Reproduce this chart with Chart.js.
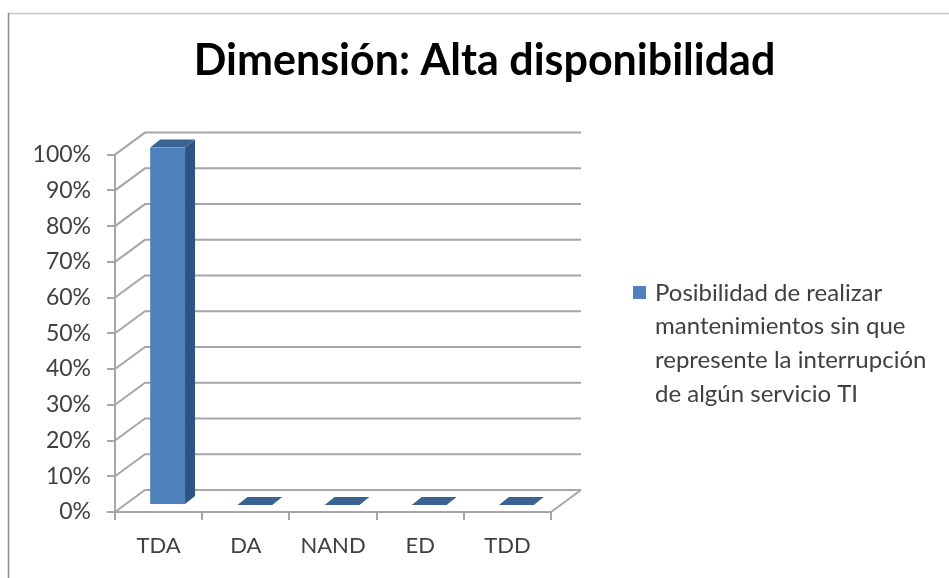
<!DOCTYPE html>
<html>
<head>
<meta charset="utf-8">
<title>Dimensión: Alta disponibilidad</title>
<script src="https://cdn.jsdelivr.net/npm/chart.js@4.4.1/dist/chart.umd.min.js"></script>
<style>
  html, body { margin: 0; padding: 0; background: #fff; }
  canvas { display: block; }
</style>
</head>
<body>
<canvas id="chart" width="949" height="578"></canvas>
<script>
/* ======================
   DATA
====================== */
const categories = ["TDA", "DA", "NAND", "ED", "TDD"];
const seriesValues = [1.0, 0, 0, 0, 0];
const yTickLabels = ["0%", "10%", "20%", "30%", "40%", "50%", "60%", "70%", "80%", "90%", "100%"];
const legendLines = [
  "Posibilidad de realizar",
  "mantenimientos sin que",
  "represente la interrupción",
  "de algún servicio TI"
];
const chartTitle = "Dimensión: Alta disponibilidad";

/* ---------- STYLE ---------- */
const FONT = "Lato, 'Open Sans', sans-serif";
const TEXT = "#404040";
const GRID = "#a6a6a6";
const FRONT = "#4f81bd";
const SIDE = "#2f5383";
const TOP = "#3a6293";

// 3D offsets (walls, bar shift inside the box, bar depth)
const WALL_DX = 30, WALL_DY = 22;
const BAR_DX = 9, BAR_DY = 7;
const DEPTH_DX = 10, DEPTH_DY = 8;

/* ======================
   3D PLUGIN
====================== */
const threeD = {
  id: "threeD",

  beforeDatasetsDraw(chart) {
    const { ctx, chartArea: a, scales } = chart;
    const y = scales.y;

    ctx.save();
    ctx.strokeStyle = GRID;
    ctx.lineWidth = 2;

    // side wall diagonals + back wall lines
    yTickLabels.forEach((_, i) => {
      const py = y.getPixelForValue(i / 10);
      ctx.beginPath();
      ctx.moveTo(a.left, py);
      ctx.lineTo(a.left + WALL_DX, py - WALL_DY);
      ctx.lineTo(a.right + WALL_DX, py - WALL_DY);
      ctx.stroke();
    });

    // floor right edge
    const y0 = y.getPixelForValue(0);
    ctx.beginPath();
    ctx.moveTo(a.right, y0);
    ctx.lineTo(a.right + WALL_DX, y0 - WALL_DY);
    ctx.stroke();
    ctx.restore();

    // shift the library's bars into the box
    ctx.save();
    ctx.translate(BAR_DX, -BAR_DY);
  },

  afterDatasetsDraw(chart) {
    const { ctx } = chart;
    ctx.restore();

    const meta = chart.getDatasetMeta(0);
    meta.data.forEach(bar => {
      const l = bar.x - bar.width / 2 + BAR_DX;
      const r = bar.x + bar.width / 2 + BAR_DX;
      const t = bar.y - BAR_DY;
      const b = bar.base - BAR_DY;

      ctx.save();
      // side face
      if (b - t > 0.5) {
        ctx.fillStyle = SIDE;
        ctx.beginPath();
        ctx.moveTo(r, t);
        ctx.lineTo(r + DEPTH_DX, t - DEPTH_DY);
        ctx.lineTo(r + DEPTH_DX, b - DEPTH_DY);
        ctx.lineTo(r, b);
        ctx.closePath();
        ctx.fill();
      }
      // top face
      ctx.fillStyle = TOP;
      ctx.beginPath();
      ctx.moveTo(l, t);
      ctx.lineTo(l + DEPTH_DX, t - DEPTH_DY);
      ctx.lineTo(r + DEPTH_DX, t - DEPTH_DY);
      ctx.lineTo(r, t);
      ctx.closePath();
      ctx.fill();
      ctx.restore();
    });
  },

  afterDraw(chart) {
    const { ctx } = chart;

    /* ---------- LEGEND ---------- */
    ctx.save();
    ctx.fillStyle = chart.data.datasets[0].backgroundColor;
    ctx.fillRect(633, 286, 13, 13);
    ctx.fillStyle = TEXT;
    ctx.font = "24px " + FONT;
    ctx.textBaseline = "middle";
    ctx.textAlign = "left";
    legendLines.forEach((line, i) => {
      ctx.fillText(line, 655, 293 + i * 33.6);
    });

    /* ---------- OUTER FRAME ---------- */
    ctx.lineWidth = 1.5;
    ctx.strokeStyle = "#c8c8c8";
    ctx.beginPath();
    ctx.moveTo(8, 13.5);
    ctx.lineTo(949, 13.5);
    ctx.stroke();
    ctx.strokeStyle = "#8c8c8c";
    ctx.beginPath();
    ctx.moveTo(8.5, 13);
    ctx.lineTo(8.5, 578);
    ctx.stroke();
    ctx.restore();
  }
};

/* ======================
   CHART
====================== */
new Chart(document.getElementById("chart"), {
  type: "bar",
  data: {
    labels: categories,
    datasets: [{
      label: legendLines.join(" "),
      data: seriesValues,
      backgroundColor: FRONT,
      borderWidth: 0,
      barPercentage: 0.4,
      categoryPercentage: 1
    }]
  },
  options: {
    responsive: false,
    devicePixelRatio: 1,
    animation: false,
    layout: { padding: { left: 20, right: 0, top: 0, bottom: 0 } },
    plugins: {
      legend: { display: false },
      tooltip: { enabled: false },
      title: {
        display: true,
        text: chartTitle,
        color: "#000",
        font: { family: FONT, size: 43, weight: "bold" },
        padding: { top: 35, bottom: 68 }
      }
    },
    scales: {
      x: {
        offset: true,
        grid: { offset: true, drawOnChartArea: false, tickLength: 8, color: GRID, lineWidth: 2 },
        border: { color: GRID, width: 2 },
        ticks: { color: TEXT, font: { family: FONT, size: 22 }, padding: 13, maxRotation: 0 },
        afterFit(s) { s.height = 66; }
      },
      y: {
        min: 0,
        max: 1,
        grid: { drawOnChartArea: false, tickLength: 8, color: GRID, lineWidth: 2 },
        border: { color: GRID, width: 2 },
        ticks: {
          stepSize: 0.1,
          color: TEXT,
          font: { family: FONT, size: 23 },
          padding: 16,
          callback: (v, i) => yTickLabels[i]
        },
        afterFit(s) { s.width = 95; }
      },
      // empty right axis that keeps room for the legend
      y2: {
        position: "right",
        display: true,
        grid: { display: false },
        border: { display: false },
        ticks: { display: false },
        afterFit(s) { s.width = 398; }
      }
    }
  },
  plugins: [threeD]
});
</script>
</body>
</html>
